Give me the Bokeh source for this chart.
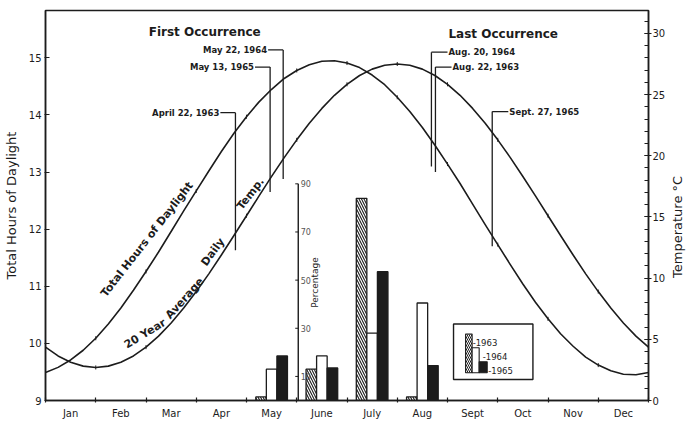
import math
from bokeh.plotting import figure
from bokeh.layouts import row
from bokeh.models import Range1d, LinearAxis, FixedTicker, SingleIntervalTicker
from bokeh.core.properties import value
from bokeh.embed import file_html
from bokeh.resources import INLINE

FONT = "DejaVu Sans"
INK = "#1c1c1c"

# ---------------- data ----------------
months = ["Jan", "Feb", "Mar", "Apr", "May", "June", "July", "Aug", "Sept", "Oct", "Nov", "Dec"]
month_centers = [0.5, 1.5, 2.5, 3.5, 4.5, 5.5, 6.5, 7.5, 8.5, 9.5, 10.5, 11.5]
month_bounds = [0, 1, 2, 3, 4, 5, 6, 7, 8, 9, 10, 11, 12]

# curve sample positions (months since Jan 1, every quarter month)
curve_t = [0, 0.25, 0.5, 0.75, 1, 1.25, 1.5, 1.75, 2, 2.25, 2.5, 2.75, 3, 3.25, 3.5, 3.75,
           4, 4.25, 4.5, 4.75, 5, 5.25, 5.5, 5.75, 6, 6.25, 6.5, 6.75, 7, 7.25, 7.5, 7.75,
           8, 8.25, 8.5, 8.75, 9, 9.25, 9.5, 9.75, 10, 10.25, 10.5, 10.75, 11, 11.25, 11.5,
           11.75, 12]
daylight_hours = [9.49, 9.58, 9.71, 9.88, 10.09, 10.34, 10.62, 10.93, 11.26, 11.60, 11.96,
                  12.32, 12.67, 13.02, 13.36, 13.68, 13.97, 14.23, 14.45, 14.64, 14.78, 14.88,
                  14.94, 14.95, 14.91, 14.83, 14.70, 14.53, 14.31, 14.06, 13.78, 13.47, 13.14,
                  12.80, 12.44, 12.08, 11.73, 11.38, 11.04, 10.72, 10.43, 10.17, 9.95, 9.76,
                  9.62, 9.52, 9.46, 9.45, 9.49]
avg_temp_c = [4.36, 3.64, 3.12, 2.81, 2.70, 2.81, 3.12, 3.64, 4.36, 5.26, 6.33, 7.55, 8.90,
              10.35, 11.89, 13.48, 15.10, 16.72, 18.31, 19.85, 21.30, 22.65, 23.87, 24.94,
              25.84, 26.56, 27.08, 27.39, 27.50, 27.39, 27.08, 26.56, 25.84, 24.94, 23.87,
              22.65, 21.30, 19.85, 18.31, 16.72, 15.10, 13.48, 11.89, 10.35, 8.90, 7.55,
              6.33, 5.26, 4.36]

# percentage of occurrences per month
bar_months = ["May", "June", "July", "Aug"]
bar_centers = [4.5, 5.5, 6.5, 7.5]
pct_1963 = [1.5, 13, 84, 1.5]
pct_1964 = [13, 18.5, 28, 40.5]
pct_1965 = [18.5, 13.5, 53.5, 14.5]
pct_ticks = [10, 30, 50, 70, 90]

# first / last occurrence annotations
first_labels = ["April 22, 1963", "May 13, 1965", "May 22, 1964"]
first_t = [3.78, 4.47, 4.73]
first_top_h = [14.04, 14.84, 15.14]
first_bot_h = [11.63, 12.65, 12.88]

last_labels = ["Aug. 20, 1964", "Aug. 22, 1963", "Sept. 27, 1965"]
last_t = [7.68, 7.76, 8.89]
last_top_h = [15.10, 14.84, 14.06]
last_bot_h = [13.10, 13.00, 11.70]

# ---------------- figure ----------------
p = figure(width=668, height=421, x_range=Range1d(0, 12), y_range=Range1d(9, 15.83),
           output_backend="svg", toolbar_location=None,
           min_border_left=43, min_border_right=18, min_border_top=10, min_border_bottom=18)
p.extra_y_ranges = {"temp": Range1d(0, 31.87), "pct": Range1d(0, 162)}
p.xgrid.visible = False
p.ygrid.visible = False
p.outline_line_color = INK
p.outline_line_width = 1.5
p.background_fill_color = "white"
p.border_fill_color = "white"

# bottom axis
xa = p.xaxis[0]
xa.ticker = FixedTicker(ticks=month_centers, minor_ticks=month_bounds)
xa.major_label_overrides = {c: m for c, m in zip(month_centers, months)}
xa.major_tick_line_color = None
xa.minor_tick_in = 3
xa.minor_tick_out = 2
xa.minor_tick_line_color = INK
xa.minor_tick_line_width = 1.2
xa.axis_line_width = 1.5
xa.axis_line_color = INK
xa.major_label_standoff = 1
xa.major_label_text_font = FONT
xa.major_label_text_font_size = "10px"
xa.major_label_text_color = INK

# left axis
ya = p.yaxis[0]
ya.ticker = SingleIntervalTicker(interval=1, num_minor_ticks=0)
ya.axis_label = "Total Hours of Daylight"
ya.axis_label_text_font = FONT
ya.axis_label_text_font_size = "13px"
ya.axis_label_text_font_style = "normal"
ya.axis_label_text_color = INK
ya.axis_label_standoff = 7
ya.major_tick_in = 4
ya.major_tick_out = 1
ya.major_tick_line_color = INK
ya.minor_tick_line_color = None
ya.axis_line_width = 1.5
ya.axis_line_color = INK
ya.major_label_standoff = 3
ya.major_label_text_font = FONT
ya.major_label_text_font_size = "10px"
ya.major_label_text_color = INK

# right axis (temperature); its title is drawn in a slim strip to the right
ra = LinearAxis(y_range_name="temp", ticker=SingleIntervalTicker(interval=5, num_minor_ticks=5))
ra.major_tick_in = 4
ra.major_tick_out = 3
ra.minor_tick_in = 4
ra.minor_tick_out = 0
ra.major_tick_line_color = INK
ra.minor_tick_line_color = INK
ra.axis_line_width = 1.5
ra.axis_line_color = INK
ra.major_label_standoff = 1
ra.major_label_text_font = FONT
ra.major_label_text_font_size = "10px"
ra.major_label_text_color = INK
p.add_layout(ra, "right")

# ---------------- curves ----------------
p.line(curve_t, daylight_hours, line_color=INK, line_width=1.6, line_join="round")
p.line(curve_t, avg_temp_c, y_range_name="temp", line_color=INK, line_width=1.6, line_join="round")
# small month marks on the curves
p.scatter(curve_t[4:-1:4], daylight_hours[4:-1:4], marker="dash", angle=math.pi / 2,
          size=4, line_color=INK, line_width=1)
p.scatter(curve_t[4:-1:4], avg_temp_c[4:-1:4], y_range_name="temp", marker="dash",
          angle=math.pi / 2, size=4, line_color=INK, line_width=1)

def label(x, y, s, size, angle_deg=0, align="center", baseline="middle", style="normal",
          yr="default", color=INK):
    kw = {}
    if yr != "default":
        kw["y_range_name"] = yr
    p.text(x=[x], y=[y], text=[s], text_font=value(FONT), text_font_size=size,
           text_font_style=style, text_color=color, angle=math.radians(angle_deg),
           text_align=align, text_baseline=baseline, **kw)

# curve labels
label(2.02, 11.82, "Total Hours of Daylight", "11px", 52, style="bold")
label(1.98, 10.17, "20 Year", "11px", 31, style="bold")
label(2.77, 10.79, "Average", "11px", 48, style="bold")
label(3.33, 11.60, "Daily", "11px", 54, style="bold")
label(4.08, 12.62, "Temp.", "11px", 52, style="bold")

# ---------------- bars (percentage scale) ----------------
bw = 0.21
p.vbar(x=[c - bw for c in bar_centers], top=pct_1963, width=bw, bottom=0, y_range_name="pct",
       fill_color="white", hatch_pattern="\\", hatch_color=INK, hatch_scale=5, hatch_weight=1.1,
       line_color=INK, line_width=1.3)
p.vbar(x=bar_centers, top=pct_1964, width=bw, bottom=0, y_range_name="pct",
       fill_color="white", line_color=INK, line_width=1.3)
p.vbar(x=[c + bw for c in bar_centers], top=pct_1965, width=bw, bottom=0, y_range_name="pct",
       fill_color=INK, line_color=INK, line_width=1.3)

# inner percentage axis
pax = 5.03
p.segment(x0=[pax], y0=[0], x1=[pax], y1=[max(pct_ticks)], y_range_name="pct",
          line_color=INK, line_width=1.4)
p.segment(x0=[pax - 0.06] * len(pct_ticks), y0=pct_ticks, x1=[pax] * len(pct_ticks), y1=pct_ticks,
          y_range_name="pct", line_color=INK, line_width=1)
p.text(x=[pax + 0.05] * len(pct_ticks), y=pct_ticks, text=[str(v) for v in pct_ticks],
       y_range_name="pct", text_font=value(FONT), text_font_size="8px", text_color="#555555",
       text_align="left", text_baseline="middle")
label(5.37, 49, "Percentage", "9px", 90, yr="pct")

# legend box
p.quad(left=[8.12], right=[9.70], bottom=[8.7], top=[31.8], y_range_name="pct",
       fill_color=None, line_color=INK, line_width=1.4)
p.quad(left=[8.36], right=[8.49], bottom=[11.5], top=[27.6], y_range_name="pct",
       fill_color="white", hatch_pattern="\\", hatch_color=INK, hatch_scale=4, hatch_weight=1,
       line_color=INK, line_width=1.1)
p.quad(left=[8.49], right=[8.63], bottom=[11.5], top=[21.9], y_range_name="pct",
       fill_color="white", line_color=INK, line_width=1.1)
p.quad(left=[8.63], right=[8.79], bottom=[11.5], top=[16.1], y_range_name="pct",
       fill_color=INK, line_color=INK, line_width=1.1)
label(8.50, 24.2, "-1963", "8.5px", align="left", yr="pct")
label(8.70, 18.4, "-1964", "8.5px", align="left", yr="pct")
label(8.81, 12.5, "-1965", "8.5px", align="left", yr="pct")

# ---------------- occurrence annotations ----------------
label(3.21, 15.45, "First  Occurrence", "12px", style="bold")
label(9.15, 15.42, "Last  Occurrence", "12px", style="bold")

p.segment(x0=first_t, y0=first_top_h, x1=first_t, y1=first_bot_h, line_color=INK, line_width=1.3)
p.segment(x0=[t - 0.30 for t in first_t], y0=first_top_h, x1=first_t, y1=first_top_h,
          line_color=INK, line_width=1.3)
p.text(x=[t - 0.32 for t in first_t], y=first_top_h, text=first_labels, text_font=value(FONT),
       text_font_size="8.5px", text_font_style="bold", text_color=INK,
       text_align="right", text_baseline="middle")

p.segment(x0=last_t, y0=last_top_h, x1=last_t, y1=last_bot_h, line_color=INK, line_width=1.3)
p.segment(x0=last_t, y0=last_top_h, x1=[t + 0.32 for t in last_t], y1=last_top_h,
          line_color=INK, line_width=1.3)
p.text(x=[t + 0.34 for t in last_t], y=last_top_h, text=last_labels, text_font=value(FONT),
       text_font_size="8.5px", text_font_style="bold", text_color=INK,
       text_align="left", text_baseline="middle")

# ---------------- slim strip holding the right axis title ----------------
strip = figure(width=20, height=421, x_range=Range1d(0, 1), y_range=Range1d(9, 15.83),
               output_backend="svg", toolbar_location=None,
               x_axis_location=None, y_axis_location=None,
               min_border_left=0, min_border_right=0, min_border_top=10, min_border_bottom=18)
strip.xgrid.visible = False
strip.ygrid.visible = False
strip.outline_line_color = None
strip.background_fill_color = "white"
strip.border_fill_color = "white"
strip.text(x=[0.45], y=[12.04], text=["Temperature °C"], text_font=value(FONT),
           text_font_size="13px", text_color=INK, angle=math.pi / 2,
           text_align="center", text_baseline="middle")

layout = row(p, strip, spacing=0)
open("out.html", "w").write(file_html(layout, INLINE))
